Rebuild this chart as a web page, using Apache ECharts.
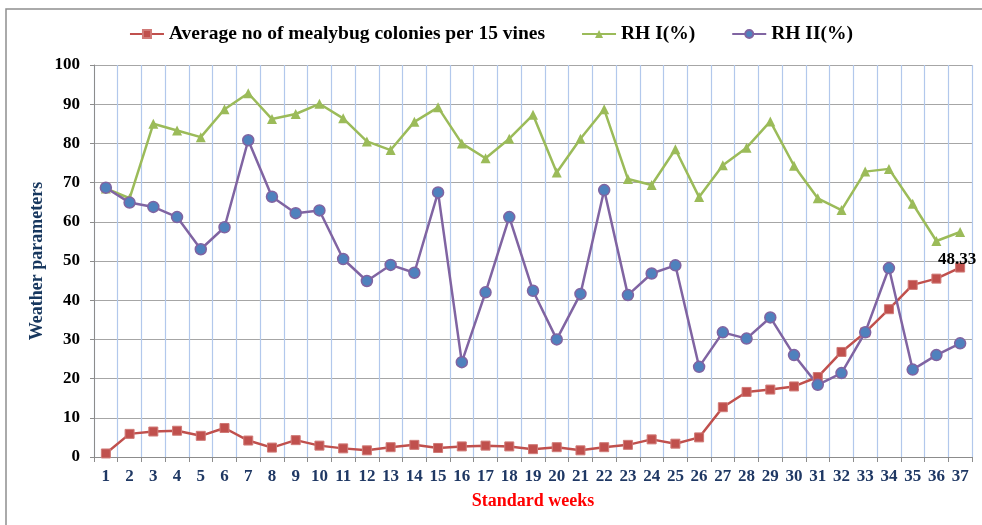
<!DOCTYPE html>
<html>
<head>
<meta charset="utf-8">
<title>Mealybug colonies and RH</title>
<script src="https://cdn.jsdelivr.net/npm/echarts@6/dist/echarts.min.js"></script>
<style>
    html, body { margin: 0; padding: 0; background: #fff; }
    #main { width: 982px; height: 525px; }
</style>
</head>
<body>
<div id="main"></div>
<script>
    // standard weeks 1..37
    const weeks = ['1','2','3','4','5','6','7','8','9','10','11','12','13','14','15','16','17','18','19',
        '20','21','22','23','24','25','26','27','28','29','30','31','32','33','34','35','36','37']

    // average no of mealybug colonies per 15 vines
    const mealybug = [0.9, 5.9, 6.5, 6.7, 5.4, 7.4, 4.2, 2.4, 4.3, 2.9, 2.2, 1.7, 2.5, 3.1, 2.3, 2.7, 2.9, 2.7, 2.0,
        2.5, 1.7, 2.5, 3.1, 4.5, 3.4, 5.0, 12.7, 16.6, 17.2, 18.0, 20.4, 26.8, 31.8, 37.7, 43.9, 45.5, 48.33]

    // RH I (%)
    const rh1 = [68.5, 66.0, 85.0, 83.3, 81.6, 88.7, 92.8, 86.2, 87.5, 90.1, 86.4, 80.5, 78.3, 85.5, 89.2, 80.0, 76.2, 81.2, 87.3,
        72.6, 81.2, 88.7, 70.9, 69.4, 78.5, 66.3, 74.4, 78.9, 85.6, 74.3, 66.0, 63.0, 72.8, 73.5, 64.6, 55.1, 57.4]

    // RH II (%)
    const rh2 = [68.7, 64.9, 63.8, 61.2, 53.0, 58.6, 80.8, 66.4, 62.2, 62.9, 50.5, 44.9, 49.0, 47.0, 67.5, 24.2, 42.0, 61.2, 42.4,
        30.0, 41.6, 68.1, 41.3, 46.8, 48.9, 23.0, 31.8, 30.2, 35.6, 26.0, 18.4, 21.4, 31.8, 48.2, 22.3, 26.0, 29.0]

    const serif = '"Liberation Serif", "Times New Roman", serif'

    const chart = echarts.init(document.getElementById('main'))

    const option = {
        animation: false,
        // outer frame of the chart
        graphic: [{
            type: 'rect',
            shape: { x: 6, y: 9, width: 1100, height: 1100 },
            style: { fill: 'none', stroke: '#8f8f8f', lineWidth: 1.5 },
            silent: true
        }],
        legend: {
            top: 19,
            left: 'center',
            itemWidth: 34,
            itemHeight: 10,
            itemGap: 36,
            textStyle: { fontFamily: serif, fontWeight: 'bold', fontSize: 19.5, color: '#000' },
            data: ['Average no of mealybug colonies per 15 vines', 'RH I(%)', 'RH II(%)']
        },
        grid: { left: 94, right: 10, top: 65, bottom: 68 },
        xAxis: {
            type: 'category',
            data: weeks,
            boundaryGap: true,
            name: 'Standard weeks',
            nameLocation: 'middle',
            nameGap: 35,
            nameTextStyle: { fontFamily: serif, fontWeight: 'bold', fontSize: 18, color: '#ff0000' },
            axisLine: { lineStyle: { color: '#8c8c8c', width: 1 } },
            axisTick: { show: true, length: 5, lineStyle: { color: '#8c8c8c' } },
            axisLabel: { interval: 0, margin: 11, fontFamily: serif, fontWeight: 'bold', fontSize: 17, color: '#1f3864' },
            splitLine: { show: true, interval: 0, lineStyle: { color: '#b2c8ec', width: 1.2 } }
        },
        yAxis: {
            type: 'value',
            min: 0,
            max: 100,
            interval: 10,
            name: 'Weather parameters',
            nameLocation: 'middle',
            nameGap: 48,
            nameMoveOverlap: false,
            nameTextStyle: { fontFamily: serif, fontWeight: 'bold', fontSize: 18, color: '#17375e' },
            axisLine: { show: true, lineStyle: { color: '#8c8c8c', width: 1 } },
            axisTick: { show: true, length: 4, lineStyle: { color: '#8c8c8c' } },
            axisLabel: { margin: 14, fontFamily: serif, fontWeight: 'bold', fontSize: 17, color: '#000' },
            splitLine: { lineStyle: { color: '#a6a6a6', width: 1 } }
        },
        series: [
            {
                name: 'Average no of mealybug colonies per 15 vines',
                type: 'line',
                data: mealybug,
                symbol: 'rect',
                symbolSize: 9,
                lineStyle: { color: '#c0504d', width: 2.5 },
                itemStyle: { color: '#c0504d', borderColor: '#d07a77', borderWidth: 1 },
                label: {
                    show: true,
                    position: 'top',
                    offset: [-3, 11],
                    fontFamily: serif,
                    fontWeight: 'bold',
                    fontSize: 17,
                    color: '#000',
                    // only the last week is labelled
                    formatter: p => p.dataIndex === mealybug.length - 1 ? p.value.toFixed(2) : ''
                }
            },
            {
                name: 'RH I(%)',
                type: 'line',
                data: rh1,
                symbol: 'triangle',
                symbolSize: 10,
                lineStyle: { color: '#9bbb59', width: 2.5 },
                itemStyle: { color: '#9bbb59' }
            },
            {
                name: 'RH II(%)',
                type: 'line',
                data: rh2,
                symbol: 'circle',
                symbolSize: 11,
                lineStyle: { color: '#8064a2', width: 2.5 },
                itemStyle: { color: '#4f81bd', borderColor: '#8064a2', borderWidth: 1.5 }
            }
        ]
    }

    chart.setOption(option)
</script>
</body>
</html>
